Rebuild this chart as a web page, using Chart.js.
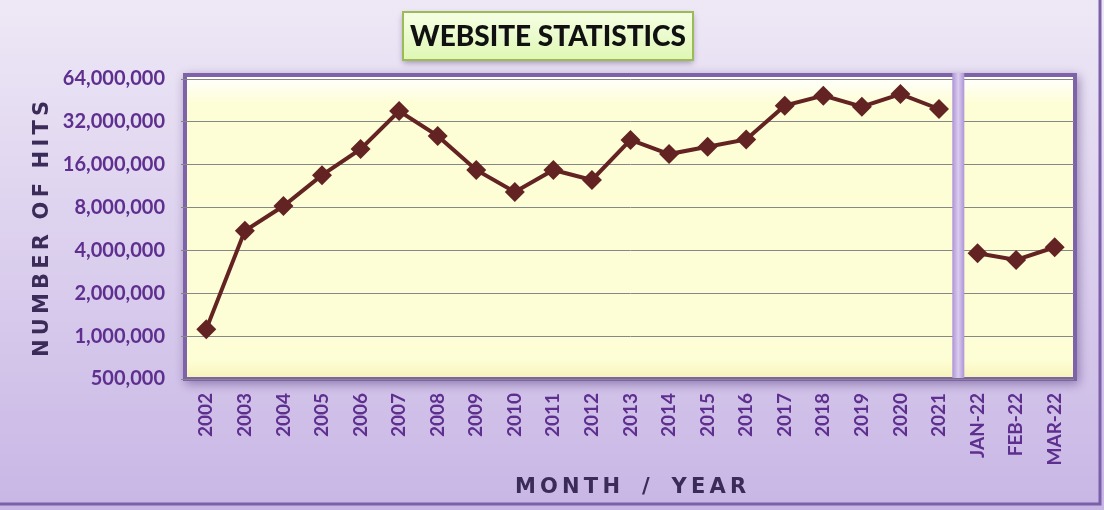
<!DOCTYPE html>
<html>
<head>
<meta charset="utf-8">
<script src="https://cdn.jsdelivr.net/npm/chart.js@4/dist/chart.umd.min.js"></script>
<style>
  html, body { margin: 0; padding: 0; background: #e4dbf1; }
  #wrap { width: 1104px; height: 510px; position: relative; }
</style>
</head>
<body>
<div id="wrap"><canvas id="myChart" width="1104" height="510"></canvas></div>
<script>
// categories along the x axis
var categories = ['2002', '2003', '2004', '2005', '2006', '2007', '2008', '2009', '2010', '2011',
                  '2012', '2013', '2014', '2015', '2016', '2017', '2018', '2019', '2020', '2021',
                  'JAN-22', 'FEB-22', 'MAR-22'];
// yearly hits 2002 - 2021
var yearlyHits = [1120000, 5500000, 8200000, 13500000, 20600000, 38100000, 25500000, 14700000,
                  10300000, 14700000, 12500000, 23900000, 19000000, 21400000, 24100000, 41600000,
                  48900000, 40900000, 50200000, 39400000];
// monthly hits 2022
var monthlyHits = [3820000, 3430000, 4210000];
// y axis ticks (log base 2)
var yTicks = [500000, 1000000, 2000000, 4000000, 8000000, 16000000, 32000000, 64000000];

var lineColor = '#632323';
var thin = '\u2009';

var yearData = yearlyHits.concat(monthlyHits.map(function(){ return null; }));
var monthData = yearlyHits.map(function(){ return null; }).concat(monthlyHits);

function spaced(words, gap){
    return words.map(function(w){ return w.split('').join(thin); }).join(gap);
}

// background, frame, title box and the separator bar
var decor = {
    id: 'decor',
    beforeDraw: function(chart){
        var ctx = chart.ctx;
        var W = chart.width, H = chart.height;
        ctx.save();
        var g = ctx.createLinearGradient(0, 0, 0, H);
        g.addColorStop(0, '#eee8f6');
        g.addColorStop(1, '#c8b6e5');
        ctx.fillStyle = g;
        ctx.fillRect(0, 0, W, H);
        ctx.strokeStyle = '#7b60a9';
        ctx.lineWidth = 3;
        ctx.strokeRect(-2, -2, 1102, 506);

        // plot frame
        var x0 = 183, y0 = 73, x1 = 1077, y1 = 381;
        ctx.shadowColor = 'rgba(60,30,100,0.45)';
        ctx.shadowBlur = 10;
        ctx.shadowOffsetX = 2;
        ctx.shadowOffsetY = 3;
        ctx.fillStyle = '#7f63a9';
        ctx.fillRect(x0, y0, x1 - x0, y1 - y0);
        ctx.shadowColor = 'transparent';
        ctx.fillStyle = '#fefed6';
        ctx.fillRect(x0 + 4, y0 + 4, x1 - x0 - 8, y1 - y0 - 8);
        var tg = ctx.createLinearGradient(0, y0 + 4, 0, y0 + 30);
        tg.addColorStop(0, 'rgba(255,255,255,1)');
        tg.addColorStop(1, 'rgba(255,255,255,0)');
        ctx.fillStyle = tg;
        ctx.fillRect(x0 + 4, y0 + 4, x1 - x0 - 8, 26);
        var bg = ctx.createLinearGradient(0, y1 - 22, 0, y1 - 4);
        bg.addColorStop(0, 'rgba(250,245,190,0)');
        bg.addColorStop(1, 'rgba(245,240,180,0.8)');
        ctx.fillStyle = bg;
        ctx.fillRect(x0 + 4, y1 - 22, x1 - x0 - 8, 18);
        ctx.restore();
    },
    beforeDatasetsDraw: function(chart){
        var ctx = chart.ctx;
        var xs = chart.scales.x;
        var mid = (xs.getPixelForValue(19) + xs.getPixelForValue(20)) / 2;
        ctx.save();
        var g = ctx.createLinearGradient(mid - 6, 0, mid + 6, 0);
        g.addColorStop(0, '#ae93d6');
        g.addColorStop(0.5, '#dacdef');
        g.addColorStop(1, '#ae93d6');
        ctx.fillStyle = g;
        ctx.fillRect(mid - 6, 73, 12, 305);
        ctx.restore();
    },
    afterDraw: function(chart){
        var ctx = chart.ctx;
        ctx.save();
        var bx = 403, by = 12, bw = 290, bh = 48;
        ctx.shadowColor = 'rgba(70,50,100,0.45)';
        ctx.shadowBlur = 6;
        ctx.shadowOffsetY = 3;
        var g = ctx.createLinearGradient(0, by, 0, by + bh);
        g.addColorStop(0, '#f6ffe4');
        g.addColorStop(1, '#dff7b4');
        ctx.fillStyle = g;
        ctx.fillRect(bx, by, bw, bh);
        ctx.shadowColor = 'transparent';
        ctx.strokeStyle = '#9bbb59';
        ctx.lineWidth = 2;
        ctx.strokeRect(bx, by, bw, bh);
        ctx.fillStyle = '#111111';
        ctx.font = '900 28px Lato';
        ctx.textAlign = 'center';
        ctx.textBaseline = 'middle';
        ctx.fillText('WEBSITE STATISTICS', bx + bw / 2, by + bh / 2 + 1);
        ctx.restore();
    }
};

var ctx = document.getElementById('myChart');
var chart = new Chart(ctx, {
    type: 'line',
    data: {
        labels: categories,
        datasets: [
            {
                label: 'Hits',
                data: yearData,
                borderColor: lineColor,
                backgroundColor: lineColor,
                borderWidth: 4,
                pointStyle: 'rectRot',
                pointRadius: 10,
                pointBorderWidth: 0,
                tension: 0,
                spanGaps: false
            },
            {
                label: 'Hits 2022',
                data: monthData,
                borderColor: lineColor,
                backgroundColor: lineColor,
                borderWidth: 4,
                pointStyle: 'rectRot',
                pointRadius: 10,
                pointBorderWidth: 0,
                tension: 0,
                spanGaps: false
            }
        ]
    },
    options: {
        responsive: false,
        animation: false,
        layout: { padding: { left: 0, right: 30, top: 79, bottom: 0 } },
        plugins: {
            legend: { display: false },
            tooltip: { enabled: false }
        },
        scales: {
            x: {
                type: 'category',
                offset: true,
                grid: { display: false, drawTicks: false },
                border: { display: false },
                ticks: {
                    color: '#5e2f8e',
                    font: { family: 'Lato', size: 19, weight: 'bold' },
                    minRotation: 90,
                    maxRotation: 90,
                    autoSkip: false,
                    padding: 14
                },
                title: {
                    display: true,
                    text: spaced(['MONTH', '/', 'YEAR'], '   '),
                    color: '#3a2b58',
                    font: { family: 'DejaVu Sans', size: 21, weight: 'bold' },
                    padding: { top: 0, bottom: 10 }
                },
                afterFit: function(scale){ scale.height = 131; }
            },
            y: {
                type: 'logarithmic',
                min: 500000,
                max: 64000000,
                afterBuildTicks: function(scale){
                    scale.ticks = yTicks.map(function(v){ return { value: v }; });
                },
                grid: { color: '#878787', lineWidth: 1, tickLength: 6, tickColor: '#878787' },
                border: { display: false },
                ticks: {
                    color: '#5e2f8e',
                    font: { family: 'Lato', size: 20, weight: 'bold' },
                    padding: 16,
                    callback: function(v){ return Number(v).toLocaleString('en-US'); }
                },
                title: {
                    display: true,
                    text: spaced(['NUMBER', 'OF', 'HITS'], '  '),
                    color: '#3a2b58',
                    font: { family: 'DejaVu Sans', size: 21, weight: 'bold' },
                    padding: { top: 30, bottom: 0 }
                },
                afterFit: function(scale){ scale.width = 187; }
            }
        }
    },
    plugins: [decor]
});
</script>
</body>
</html>
